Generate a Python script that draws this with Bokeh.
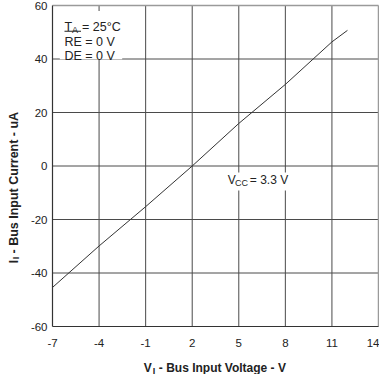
import math
from bokeh.plotting import figure
from bokeh.models import Range1d, FixedTicker, Label, BoxAnnotation, LinearAxis
from bokeh.embed import file_html
from bokeh.resources import INLINE

# ---- data ----
v_in = [-7, -4, -1, 2, 5, 8, 11, 12]
i_in = [-45.4, -29.9, -15.2, 0.0, 15.9, 30.5, 46.4, 50.7]

x_ticks = [-7, -4, -1, 2, 5, 8, 11, 14]
x_tick_labels = ["-7", "-4", "-1", "2", "5", "8", "11", "14"]
y_ticks = [-60, -40, -20, 0, 20, 40, 60]
y_tick_labels = ["-60", "-40", "-20", "0", "20", "40", "60"]

FONT = "Liberation Sans"

# ---- layout (pixels) ----
W, H = 379, 374
PL, PR, PT, PB = 52, 378, 5, 326          # plot-area edges in canvas pixels
XMIN, XMAX = x_ticks[0], x_ticks[-1]
YMIN, YMAX = y_ticks[0], y_ticks[-1]
sx = (PR - PL) / (XMAX - XMIN)
sy = (PB - PT) / (YMAX - YMIN)
x_range = Range1d(XMIN - PL / sx, XMIN + (W - PL) / sx)
y_range = Range1d(YMAX - (H - PT) / sy, YMAX + PT / sy)

p = figure(width=W, height=H, output_backend="svg", toolbar_location=None,
           x_range=x_range, y_range=y_range,
           x_axis_location=None, y_axis_location=None,
           min_border_left=0, min_border_right=0, min_border_top=0,
           min_border_bottom=0)
p.title.visible = False
p.background_fill_color = "white"
p.border_fill_color = "white"
p.outline_line_color = None
p.xgrid.visible = False
p.ygrid.visible = False

# grid lines from tick arrays
GRID = "#4a4a4a"
p.segment(x0=x_ticks[1:-1], y0=[YMIN] * (len(x_ticks) - 2),
          x1=x_ticks[1:-1], y1=[YMAX] * (len(x_ticks) - 2),
          line_color=GRID, line_width=1)
p.segment(x0=[XMIN] * (len(y_ticks) - 2), y0=y_ticks[1:-1],
          x1=[XMAX] * (len(y_ticks) - 2), y1=y_ticks[1:-1],
          line_color=GRID, line_width=1)
# top and right border (light grey)
p.segment(x0=[XMIN, XMAX], y0=[YMAX, YMIN], x1=[XMAX, XMAX], y1=[YMAX, YMAX],
          line_color="#9a9a9a", line_width=1.5)

# data curve
p.line(v_in, i_in, line_color="#333333", line_width=1)

# axes fixed at the plot-area edges
xax = LinearAxis(fixed_location=YMIN, bounds=(XMIN, XMAX))
yax = LinearAxis(fixed_location=XMIN, bounds=(YMIN, YMAX))
p.add_layout(xax, "below")
p.add_layout(yax, "left")
for ax, ticks, labels, standoff in ((xax, x_ticks, x_tick_labels, 12),
                                     (yax, y_ticks, y_tick_labels, 5)):
    ax.ticker = FixedTicker(ticks=ticks)
    ax.major_label_overrides = {t: l for t, l in zip(ticks, labels)}
    ax.major_tick_out = 0
    ax.major_tick_in = 0
    ax.minor_tick_out = 0
    ax.minor_tick_in = 0
    ax.axis_line_color = "#333333"
    ax.axis_line_width = 1.2
    ax.major_label_text_font = FONT
    ax.major_label_text_font_size = "11.5px"
    ax.major_label_text_color = "#222222"
    ax.major_label_standoff = standoff


# canvas pixel -> frame screen units (frame == whole canvas)
def fx(px):
    return px

def fy(py):
    return H - py

def box(l, r, t, b, color="white"):
    p.add_layout(BoxAnnotation(left=fx(l), right=fx(r), top=fy(t), bottom=fy(b),
                               left_units="screen", right_units="screen",
                               top_units="screen", bottom_units="screen",
                               fill_color=color, fill_alpha=1, line_alpha=0))

def lab(x, y, text, size="12.5px", style="normal", angle=0.0):
    p.add_layout(Label(x=fx(x), y=fy(y), x_units="screen", y_units="screen",
                       text=text, text_font=FONT, text_font_size=size,
                       text_font_style=style, text_color="#222222",
                       text_align="left", text_baseline="alphabetic",
                       angle=angle))

# white boxes behind annotations
box(59.3, 121.7, 10.5, 58.8)
box(225, 290, 172, 190)

# conditions block
lab(64, 26.7, "T")
lab(71.5, 29, "A", size="9px")
lab(81.5, 26.7, "= 25°C")
lab(64, 41.7, "RE = 0 V")
box(64, 80.5, 30.2, 31.2, color="#222222")
lab(64, 55.7, "DE = 0 V")

# Vcc annotation
lab(227.3, 179.5, "V", size="12px")
lab(234.5, 182, "CC", size="9px")
lab(249.3, 179.5, "= 3.3 V", size="12px")

# x axis title
lab(143.3, 367.5, "V", size="12px", style="bold")
lab(152.3, 370, "I", size="9px", style="bold")
lab(158.3, 367.5, "- Bus Input Voltage - V", size="12px", style="bold")

# y axis title (rotated)
ang = math.pi / 2
lab(13, 262.7, "I", size="12px", style="bold", angle=ang)
lab(15.8, 258.8, "I", size="9px", style="bold", angle=ang)
lab(13, 253, "- Bus Input Current - uA", size="12.5px", style="bold", angle=ang)

open("out.html", "w").write(file_html(p, INLINE))
